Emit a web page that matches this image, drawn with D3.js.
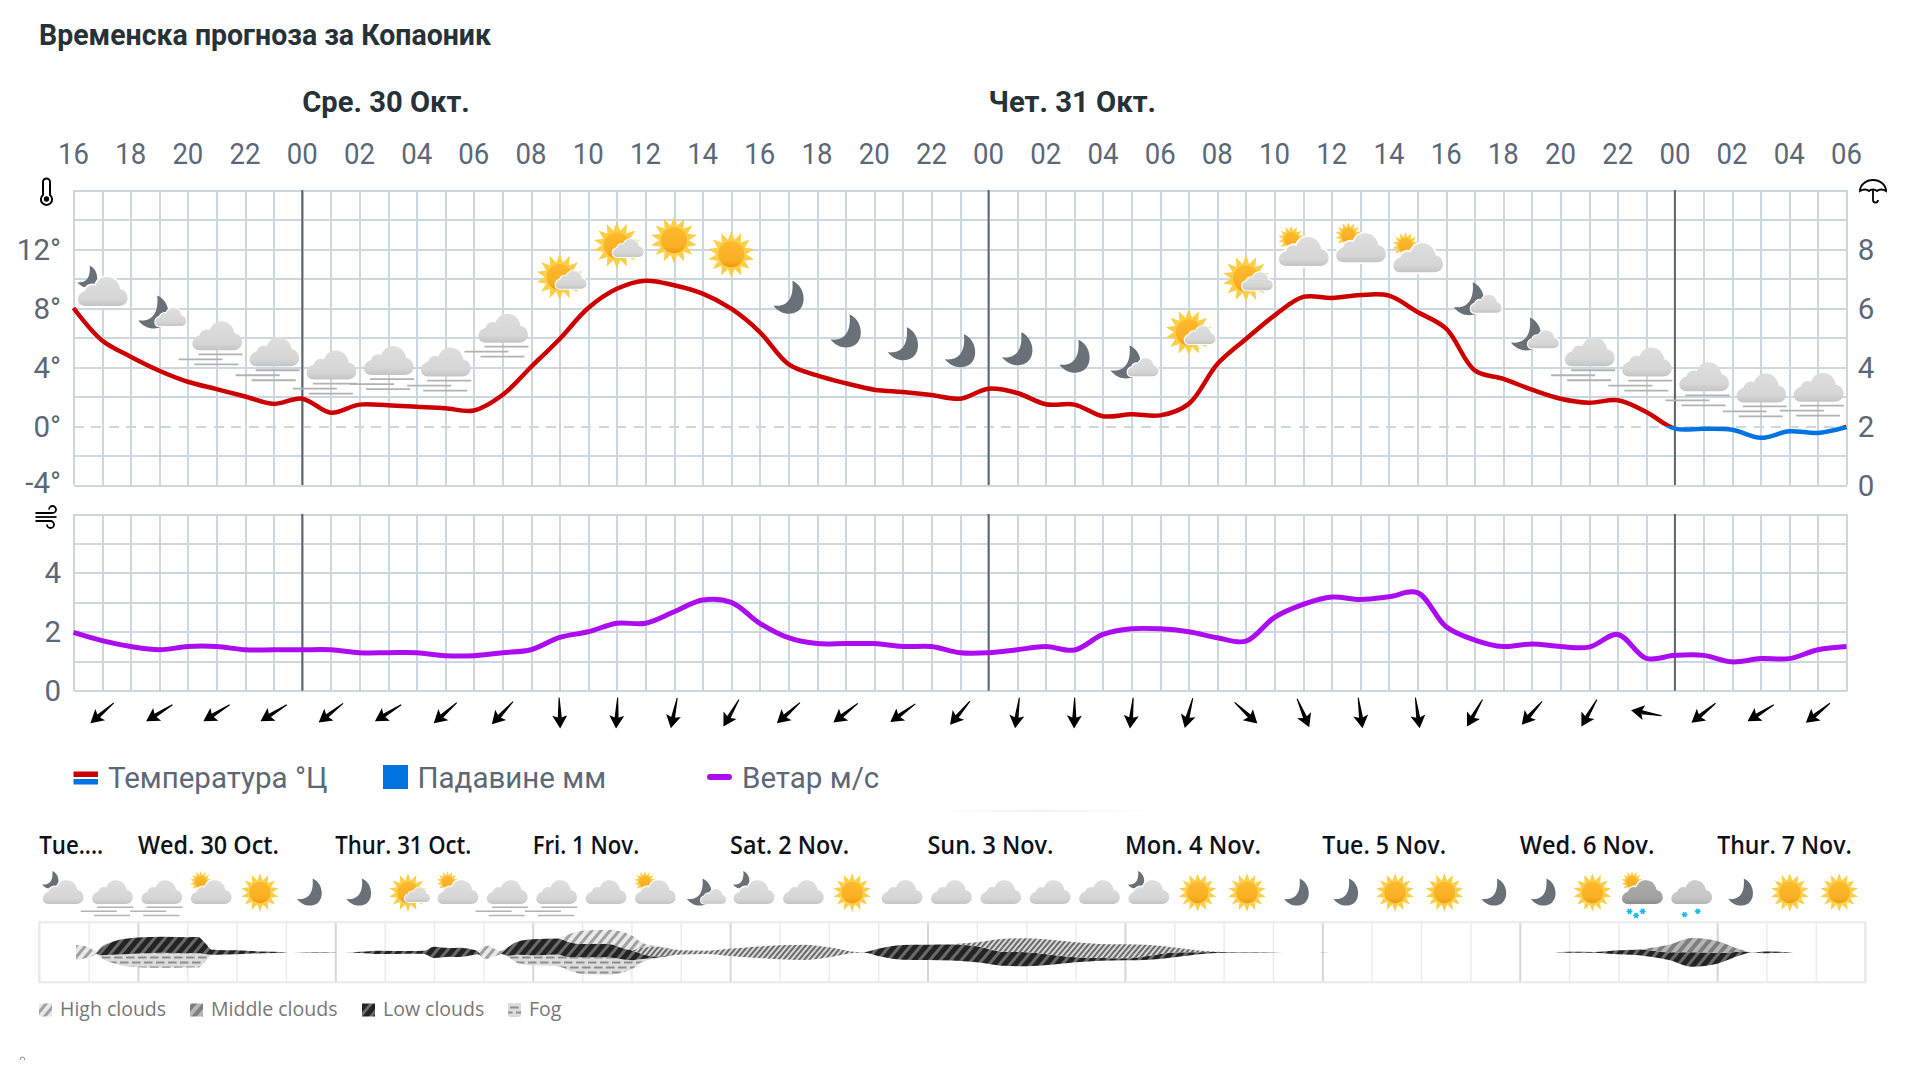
<!DOCTYPE html>
<html><head><meta charset="utf-8">
<style>html,body{margin:0;padding:0;background:#fff;width:1920px;height:1080px;overflow:hidden}
svg{display:block}
text{font-family:Roboto,sans-serif}
.domain{display:none}
</style>
<script src="https://cdn.jsdelivr.net/npm/d3@7/dist/d3.min.js"></script>
</head><body><svg id="c" width="1920" height="1080"></svg>
<script>
const titleText="Временска прогноза за Копаоник";
const dayHeaders=[{h:8,t:"Сре. 30 Окт."},{h:32,t:"Чет. 31 Окт."}];
const midnights=[8,32,56];
const hourLabels=["16","18","20","22","00","02","04","06","08","10","12","14","16","18","20","22","00","02","04","06","08","10","12","14","16","18","20","22","00","02","04","06"];
const tempTicks=[12,8,4,0,-4];
const rainTicks=[0,2,4,6,8];
const windTicks=[4,2,0];
const temperature=[8.0,5.8,4.7,3.75,3.0,2.5,2.0,1.5,1.85,0.9,1.45,1.4,1.3,1.2,1.05,2.1,4.0,5.9,8.0,9.3,9.85,9.54,8.97,7.95,6.37,4.2,3.43,2.9,2.46,2.3,2.1,1.85,2.53,2.24,1.47,1.45,0.66,0.8,0.72,1.5,4.2,5.9,7.5,8.75,8.68,8.88,8.84,7.73,6.6,3.77,3.2,2.46,1.85,1.58,1.74,0.95,-0.18,-0.18,-0.25,-0.8,-0.36,-0.47,-0.07];
const wind=[1.98,1.7,1.5,1.39,1.5,1.5,1.39,1.39,1.39,1.39,1.29,1.29,1.29,1.19,1.19,1.29,1.39,1.81,2.0,2.29,2.29,2.68,3.08,3.0,2.29,1.8,1.6,1.6,1.6,1.5,1.5,1.29,1.29,1.39,1.5,1.38,1.91,2.1,2.1,2.0,1.8,1.68,2.49,2.93,3.18,3.1,3.19,3.33,2.17,1.72,1.5,1.59,1.5,1.48,1.91,1.1,1.2,1.2,0.98,1.09,1.09,1.39,1.5];
const oddHours=d3.range(1,62,2);
const windBearing=[229,238,238,238,232,238,228,223,178,183,192,210,228,232,234,220,188,181,186,195,133,157,172,172,210,221,210,280,231,238,231];
const iconKinds=["moonBig","moonSmall","fog","fog","fog","fog","fog","fog","sunSmall","sunSmall","sun","sun","moon","moon","moon","moon","moon","moon","moonSmall","sunSmall","sunSmall","sunBig","sunBig","sunBig","moonSmall","moonSmall","fog","fog","fog","fog","fog"];
const iconLevels=[9.08,7.7,6.08,5.0,4.1,4.4,4.3,6.6,10.1,12.25,12.6,11.64,8.7,6.4,5.54,5.06,5.2,4.7,4.3,6.35,10.0,11.8,12.05,11.37,8.6,6.2,5.0,4.3,3.3,2.55,2.6];
const dayLabels=["Tue....","Wed. 30 Oct.","Thur. 31 Oct.","Fri. 1 Nov.","Sat. 2 Nov.","Sun. 3 Nov.","Mon. 4 Nov.","Tue. 5 Nov.","Wed. 6 Nov.","Thur. 7 Nov."];
const rowKinds=["moonBig","fog","fog","sunBig","sun","moon","moon","sunSmall","sunBig","fog","fog","cloud","sunBig","moonSmall","moonBig","cloud","sun","cloud","cloud","cloud","cloud","cloud","moonBig","sun","sun","moon","moon","sun","sun","moon","moon","sun","snowSun","snow","moon","sun","sun"];
const cloudT =[0,.74,.75,1,1.15,1.25,1.5,2,2.5,3,3.22,3.35,3.5,3.6,4,4.5,5,5.05,5.14,5.5,6,6.02,6.18,6.5,6.9,7.5,7.8,8,8.3,8.5,8.8,8.9,9,9.1,9.2,9.35,9.5,9.7,10,10.5,10.75,11,11.5,12,12.17,12.5,13,13.5,14,14.5,15,15.5,16,16.5,16.7,17,17.5,18,18.5,19,19.5,20,20.5,21,21.5,22,22.5,23,23.5,24,24.5,25,25.44,25.88,26,26.3,30.7,31,31.5,32,32.5,33,33.5,34,34.5,34.7,35,35.5,35.6,37];
const cloudHigh=[0,0,44,30,8,5,0,0,0,0,0,0,0,0,0,0,0,0,0,0,0,0,0,0,0,0,0,0,0,0,0,4,36,40,25,8,0,0,0,0,25,40,42,45,20,0,0,0,0,0,0,0,0,0,0,0,0,0,0,0,0,0,0,0,0,0,0,0,0,0,0,0,0,0,0,0,0,0,0,0,0,0,0,0,0,0,0,0,0,0];
const cloudFine=[0,0,0,0,0,0,0,0,0,0,0,0,0,0,0,0,0,0,0,0,0,0,0,0,0,0,0,0,0,0,0,0,0,0,0,0,0,0,0,0,0,0,0,0,15,30,13,10,22,33,42,46,30,4,.5,0,0,0,1,12,38,42,45,45,42,42,32,15,5,0,0,0,0,0,0,0,0,0,0,0,0,0,0,0,0,0,0,0,0,0];
const cloudMid=[0,0,0,0,0,0,0,0,0,0,0,0,0,0,0,0,0,0,0,0,0,0,0,0,0,0,0,0,0,0,0,0,0,0,0,0,0,0,0,0,0,0,0,0,0,0,0,0,0,0,0,0,0,0,0,0,0,0,0,0,0,0,0,0,0,0,0,0,0,0,0,0,0,0,0,0,0,0,0,0,2,22,43,36,5,0,0,0,0,0];
const cloudLow=[0,0,0,0,0,20,40,48,48,48,48,35,15,14,12,5,1,0,0,1.5,1,0,0,4,10,8,10,34,26,28,16,8,0,0,0,0,25,40,48,48,45,40,40,30,18,4,0,0,0,0,0,0,0,0,.5,22,44,46,48,48,42,42,30,15,8,6,12,14,6,2,1.5,1,0,0,.8,0,0,3,2,12,18,22,43,32,9,.5,5,.5,0,0];
const cloudFog=[0,0,0,0,0,8,25,41,45,43,44,25,0,0,0,0,0,0,0,0,0,0,0,0,0,0,0,0,0,0,0,0,0,0,0,0,5,25,30,35,40,50,53,28,12,1,0,0,0,0,0,0,0,0,0,0,0,0,0,0,0,0,0,0,0,0,0,0,0,0,0,0,0,0,0,0,0,0,0,0,0,0,0,0,0,0,0,0,0,0];
const cloudLegend=[{k:"high",t:"High clouds"},{k:"mid",t:"Middle clouds"},{k:"low",t:"Low clouds"},{k:"fogp",t:"Fog"}];

const svg=d3.select("#c");
const slate="#5c6876",dark="#263238",gridC="#ccd7e0";
const x=d3.scaleLinear([0,62],[73.5,1846.5]);
const yT=d3.scaleLinear([-4,16],[485,190]);
const yR=d3.scaleLinear([0,10],[485,190]);
const yW=d3.scaleLinear([0,6],[690.7,514]);

/* defs */
const defs=svg.append("defs");
function vgrad(id,a,b){const g=defs.append("linearGradient").attr("id",id).attr("x1",0).attr("x2",0).attr("y1",0).attr("y2",1);
 g.append("stop").attr("offset","0%").attr("stop-color",a);g.append("stop").attr("offset","75%").attr("stop-color",d3.interpolateRgb(a,b)(.3));g.append("stop").attr("offset","100%").attr("stop-color",b);}
vgrad("cl","#dedede","#c4c4c4");vgrad("cls","#ababab","#8e8e8e");vgrad("clg","#cdcdcd","#b4b4b4");vgrad("sg","#fdb92d","#f0960e");
function stripes(id,bg,fg,period,w){const p=defs.append("pattern").attr("id",id).attr("patternUnits","userSpaceOnUse").attr("width",period).attr("height",period).attr("patternTransform","rotate(40)");
 p.append("rect").attr("width",period).attr("height",period).attr("fill",bg);
 p.append("rect").attr("width",w).attr("height",period).attr("fill",fg);}
stripes("high","#e9e9e9","#a0a0a0",7,3);
stripes("fine","#d8d8d8","#6a6a6a",4,2);
stripes("mid","#b7b7b7","#7e7e7e",8,4);
stripes("low","#232323","#6a6a6a",8,3);
{const p=defs.append("pattern").attr("id","fogp").attr("patternUnits","userSpaceOnUse").attr("width",12).attr("height",10);
 p.append("rect").attr("width",12).attr("height",10).attr("fill","#dcdcdc");
 p.append("rect").attr("x",0).attr("y",1.5).attr("width",8.5).attr("height",2).attr("fill","#8e8e8e");
 p.append("rect").attr("x",6).attr("y",6.5).attr("width",8.5).attr("height",2).attr("fill","#8e8e8e");
 p.append("rect").attr("x",-6).attr("y",6.5).attr("width",8.5).attr("height",2).attr("fill","#8e8e8e");}
defs.append("clipPath").attr("id","above").append("rect").attr("x",0).attr("y",0).attr("width",1920).attr("height",yT(0));
defs.append("clipPath").attr("id","below").append("rect").attr("x",0).attr("y",yT(0)).attr("width",1920).attr("height",200);

/* title + headers */
svg.append("text").attr("x",39).attr("y",45).attr("font-size",29).attr("font-weight",700).attr("fill",dark).attr("textLength",452).attr("lengthAdjust","spacingAndGlyphs").text(titleText);
svg.append("g").selectAll("text").data(dayHeaders).join("text").attr("x",d=>x(d.h)).attr("y",112).attr("font-size",30).attr("font-weight",700).attr("fill",dark).attr("textLength",167.5).attr("lengthAdjust","spacingAndGlyphs").text(d=>d.t);
svg.append("g").selectAll("text").data(hourLabels).join("text").attr("x",(d,i)=>x(i*2)).attr("y",164).attr("text-anchor","middle").attr("font-size",30).attr("fill",slate).attr("textLength",31).attr("lengthAdjust","spacingAndGlyphs").text(d=>d);

/* grids with axes */
function gridFor(yScale,y0,y1,hTicks,dash){
 const g=svg.append("g");
 const xa=g.append("g").attr("transform",`translate(0,${y0})`).call(d3.axisBottom(x).tickValues(d3.range(0,63)).tickSize(y1-y0).tickFormat(""));
 xa.selectAll("line").attr("stroke",gridC).attr("stroke-width",2).attr("shape-rendering","crispEdges");
 const ya=g.append("g").attr("transform",`translate(${x(0)},0)`).call(d3.axisRight(yScale).tickValues(hTicks).tickSize(x(62)-x(0)).tickFormat(""));
 ya.selectAll("line").attr("stroke",gridC).attr("stroke-width",2).attr("shape-rendering","crispEdges");
 if(dash!==undefined) ya.selectAll(".tick").filter(d=>d===dash).select("line").attr("stroke-dasharray","10 7.5");
 g.selectAll("text").remove();
 g.append("g").selectAll("line").data(midnights).join("line").attr("x1",d=>x(d)).attr("x2",d=>x(d)).attr("y1",y0).attr("y2",y1).attr("stroke","#5d646e").attr("stroke-width",2);
}
gridFor(yT,190,485,d3.range(-4,17,2),0);
gridFor(yW,514,690.7,d3.range(0,7));

/* axis labels */
const lt=svg.append("g").attr("transform","translate(61,0)").call(d3.axisLeft(yT).tickValues(tempTicks).tickSize(0).tickPadding(0).tickFormat(d=>d+"°"));
lt.selectAll("text").attr("font-size",29.5).attr("fill",slate).attr("font-family","Roboto").attr("dy","0.34em").attr("dx",0);
lt.selectAll(".tick").filter(d=>d===-4).select("text").attr("dy","0.26em");
const rt=svg.append("g").attr("transform","translate(1866,0)").call(d3.axisRight(yR).tickValues(rainTicks).tickSize(0).tickPadding(0).tickFormat(d=>d));
rt.selectAll("text").attr("font-size",29.5).attr("fill",slate).attr("font-family","Roboto").attr("text-anchor","middle").attr("dy","0.34em");
const wt=svg.append("g").attr("transform","translate(61,0)").call(d3.axisLeft(yW).tickValues(windTicks).tickSize(0).tickPadding(0).tickFormat(d=>d));
wt.selectAll("text").attr("font-size",29.5).attr("fill",slate).attr("font-family","Roboto").attr("dy","0.34em");

/* icons */
const CLOUD="M-17,14C-26,14-27,2-17,-1C-16,-6-10,-8-7,-6C-4,-13 0,-15 5,-15C12,-15 17,-10 18,-3C24,-2 25.5,3 25.5,6.5C25.5,11 21,14 17,14Z";
const MOON="M4,-17C16,-12 19,6 10,13C3,18-8,17-15,8C-6,9 6,6 4,-17Z";
function starPath(R,r,n){const p=[];for(let i=0;i<n*2;i++){const a=i*Math.PI/n,q=i%2?r:R;p.push([q*Math.sin(a),-q*Math.cos(a)]);}return "M"+p.map(d=>d[0].toFixed(1)+","+d[1].toFixed(1)).join("L")+"Z";}
const STAR=starPath(23.5,15,14);
function sun(g,tx,ty,s){const h=g.append("g").attr("transform",`translate(${tx},${ty}) scale(${s})`);
 h.append("path").attr("d",STAR).attr("fill","#fdcf48");
 h.append("circle").attr("r",13).attr("fill","url(#sg)");}
function moon(g,tx,ty,s){g.append("path").attr("d",MOON).attr("transform",`translate(${tx},${ty}) scale(${s})`).attr("fill","#6a7078");}
function cloud(g,tx,ty,s,fill,halo){const h=g.append("g").attr("transform",`translate(${tx},${ty}) scale(${s})`);
 if(halo)h.append("path").attr("d",CLOUD).attr("fill","#fff").attr("stroke","#fff").attr("stroke-width",3.5);
 h.append("path").attr("d",CLOUD).attr("fill",fill||"url(#cl)");}
function flake(g,fx,fy){const h=g.append("g").attr("transform",`translate(${fx},${fy})`);
 [0,60,120].forEach(a=>h.append("line").attr("x1",-3.6).attr("x2",3.6).attr("transform",`rotate(${a})`).attr("stroke","#19b5fb").attr("stroke-width",2));}
const painters={
 cloud:g=>cloud(g,0,0,1),
 fog:g=>{cloud(g,0,0,1);[[4,18],[-16,23],[0,28]].forEach(d=>g.append("line").attr("x1",d[0]-22).attr("x2",d[0]+22).attr("y1",d[1]).attr("y2",d[1]).attr("stroke","#b2b2b2").attr("stroke-width",1.8));},
 sun:g=>sun(g,0,0,1),
 moon:g=>moon(g,0,0,1),
 sunSmall:g=>{sun(g,0,0,1);cloud(g,11,3,.62,null,true);},
 sunBig:g=>{sun(g,-12,-13,.56);cloud(g,0,0,1,null,true);},
 moonBig:g=>{moon(g,-15,-15,.66);cloud(g,0,0,1,null,true);},
 moonSmall:g=>{moon(g,-6,0,1);cloud(g,11,5,.62,null,true);},
 snowSun:g=>{sun(g,-12,-13,.56);cloud(g,0,0,1,"url(#cls)",true);[[-15,23],[-7,28],[1,23]].forEach(d=>flake(g,d[0],d[1]));},
 snow:g=>{cloud(g,0,0,1,"url(#clg)");[[-8,27],[8,23]].forEach(d=>flake(g,d[0],d[1]));}
};
svg.append("g").selectAll("g").data(iconKinds).join("g")
 .attr("transform",(d,i)=>`translate(${x(oddHours[i])},${yT(iconLevels[i])})`)
 .each(function(d){painters[d](d3.select(this));});

/* lines */
const lineT=d3.line().x((d,i)=>x(i)).y(d=>yT(d)).curve(d3.curveCatmullRom.alpha(.5));
svg.append("path").attr("d",lineT(temperature)).attr("fill","none").attr("stroke","#cc0000").attr("stroke-width",4.5).attr("clip-path","url(#above)");
svg.append("path").attr("d",lineT(temperature)).attr("fill","none").attr("stroke","#0073e0").attr("stroke-width",4.5).attr("clip-path","url(#below)");
const lineW=d3.line().x((d,i)=>x(i)).y(d=>yW(d)).curve(d3.curveCatmullRom.alpha(.5));
svg.append("path").attr("d",lineW(wind)).attr("fill","none").attr("stroke","#ac0cf0").attr("stroke-width",5);

/* wind arrows */
svg.append("g").selectAll("path").data(windBearing).join("path")
 .attr("transform",(d,i)=>`translate(${x(oddHours[i])},713) rotate(${d})`)
 .attr("d","M-.5,15.5L.5,15.5L2,-4.5L7.5,-2.5L0,-15.5L-7.5,-2.5L-2,-4.5Z").attr("fill","#000");

/* main legend */
const lg=svg.append("g");
lg.append("rect").attr("x",73.5).attr("y",771.5).attr("width",24.5).attr("height",5.5).attr("fill","#cc0000");
lg.append("rect").attr("x",73.5).attr("y",779).attr("width",24.5).attr("height",5.5).attr("fill","#0073e0");
lg.append("rect").attr("x",383).attr("y",765).attr("width",25).attr("height",24).attr("fill","#0073e0");
lg.append("rect").attr("x",707).attr("y",774).attr("width",25).attr("height",6).attr("rx",3).attr("fill","#ac0cf0");
[[108,"Температура °Ц"],[417.5,"Падавине мм"],[742,"Ветар м/с"]].forEach(d=>lg.append("text").attr("x",d[0]).attr("y",788).attr("font-size",29.5).attr("fill",slate).text(d[1]));

/* faint mark */
const fg=defs.append("linearGradient").attr("id","fade");
fg.append("stop").attr("offset","0%").attr("stop-color","#f3f3f3").attr("stop-opacity",0);
fg.append("stop").attr("offset","50%").attr("stop-color","#f0f0f0");
fg.append("stop").attr("offset","100%").attr("stop-color","#f3f3f3").attr("stop-opacity",0);
svg.append("rect").attr("x",925).attr("y",810).attr("width",232).attr("height",2).attr("fill","url(#fade)");

/* lower panel */
const sx=d3.scaleLinear([0,37],[39.2,1865.2]);
const sy=d3.scaleLinear([-90,90],[982.3,922.3]);
const labelCells=[0,2,6,10,14,18,22,26,30,34];
const labelFit=[64,141,136,106.5,119,126,136,123.7,134.7,134.7];
svg.append("g").selectAll("text").data(dayLabels).join("text").attr("x",(d,i)=>sx(labelCells[i])).attr("y",854)
 .attr("style","font-family:'Open Sans'").attr("font-size",25).attr("font-weight",600).attr("fill","#0e1119")
 .attr("textLength",(d,i)=>labelFit[i]).attr("lengthAdjust","spacingAndGlyphs").text(d=>d);
svg.append("g").selectAll("g").data(rowKinds).join("g")
 .attr("transform",(d,i)=>`translate(${sx(i+.5)-1.3},892.5) scale(.82)`)
 .each(function(d){painters[d](d3.select(this));});
const cg=svg.append("g");
cg.append("g").attr("transform","translate(0,922.3)").call(d3.axisBottom(sx).tickValues(d3.range(0,38)).tickSize(60).tickFormat(""))
 .call(g=>g.selectAll("text").remove())
 .selectAll("line").attr("stroke",d=>(d-2)%4===0?"#d6d6d6":"#ececec").attr("stroke-width",d=>(d-2)%4===0?2:1.5);
cg.append("rect").attr("x",sx(0)).attr("y",922.3).attr("width",sx(37)-sx(0)).attr("height",60).attr("fill","none").attr("stroke","#e9e9e9").attr("stroke-width",2);
const rows=cloudT.map((t,i)=>({t,high:cloudHigh[i],fine:cloudFine[i],mid:cloudMid[i],low:cloudLow[i],fog:cloudFog[i]}));
const stacked=d3.stack().keys(["fog","low","mid","fine","high"]).offset(d3.stackOffsetSilhouette)(rows);
const area=d3.area().x(d=>sx(d.data.t)).y0(d=>sy(d[0])).y1(d=>sy(d[1])).curve(d3.curveMonotoneX);
const fillOf={fog:"fogp",low:"low",mid:"mid",fine:"fine",high:"high"};
cg.append("g").selectAll("path").data(stacked).join("path").attr("d",area).attr("fill",d=>`url(#${fillOf[d.key]})`);
const lx=[39,190,362,508],tx=[60,211,383,529];
const cl=svg.append("g").selectAll("g").data(cloudLegend).join("g");
cl.append("rect").attr("x",(d,i)=>lx[i]).attr("y",1003.5).attr("width",13).attr("height",13).attr("fill",d=>`url(#${d.k})`);
cl.append("text").attr("x",(d,i)=>tx[i]).attr("y",1016).attr("style","font-family:'Open Sans'").attr("font-size",19.5).attr("fill","#777").text(d=>d.t);
svg.append("path").attr("d","M20,1060A2.4,3 0 0 1 24.8,1060").attr("fill","none").attr("stroke","#888").attr("stroke-width",1);

/* small symbols */
const th=svg.append("g").attr("transform","translate(46.5,191)").attr("fill","none").attr("stroke","#000").attr("stroke-width",2);
th.append("path").attr("d","M-3.5,4V-9A3.5,3.5 0 0 1 3.5,-9V4A5.6,5.6 0 1 1 -3.5,4Z");
th.append("circle").attr("cy",8).attr("r",1.7).attr("fill","#000");
const um=svg.append("g").attr("transform","translate(1873,190)").attr("fill","none").attr("stroke","#000").attr("stroke-width",1.8);
um.append("path").attr("d","M-13,1A13,11 0 0 1 13,1C10,-1 6,-1 4,1C2,-1 -2,-1 -4,1C-6,-1 -10,-1 -13,1Z");
um.append("path").attr("d","M0,0V10A2.5,2.5 0 0 0 5,10");
const wi=svg.append("g").attr("transform","translate(46.5,515)").attr("fill","none").attr("stroke","#000").attr("stroke-width",1.8);
wi.append("path").attr("d","M-11,-2H6A3.5,3.5 0 1 0 2.5,-5.5");
wi.append("path").attr("d","M-11,2H10");
wi.append("path").attr("d","M-11,6H4A3.5,3.5 0 1 1 .5,9.5");
</script></body></html>
